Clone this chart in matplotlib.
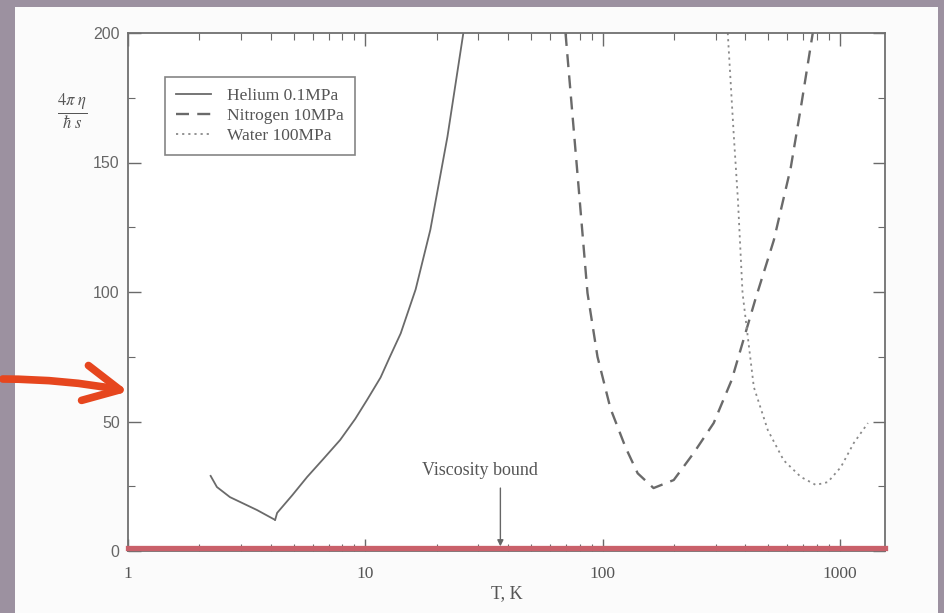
import matplotlib
matplotlib.use("Agg")
import matplotlib.pyplot as plt
from matplotlib.patches import Rectangle, FancyArrowPatch
from matplotlib.ticker import LogLocator, NullFormatter, MultipleLocator, FixedLocator, FixedFormatter

plt.rcParams["mathtext.fontset"] = "stix"

# ---- data ----
helium_liq_T = [2.22, 2.37, 2.69, 3.5, 4.17]
helium_liq_v = [29.3, 24.7, 20.8, 15.8, 12.0]
helium_gas_T = [4.17, 4.25, 4.92, 5.69, 6.65, 7.84, 9.07, 10.2, 11.6, 12.7, 14.1, 16.3, 18.8, 22.2, 25.9]
helium_gas_v = [12.0, 14.7, 21.5, 28.6, 35.5, 42.9, 51.0, 58.5, 67.0, 75.0, 84.0, 101.0, 124.0, 160.0, 200.0]

nitrogen_T = [69.8, 78.0, 86.4, 95.2, 108, 125, 140.6, 164, 199.5, 242, 294, 350, 440, 527, 621, 690, 769]
nitrogen_v = [200.0, 148.0, 99.6, 75.0, 55.0, 40.0, 30.0, 24.3, 27.4, 37.8, 49.4, 66.0, 97.0, 120.0, 148.0, 173.0, 200.0]

water_T = [337, 357, 372, 389, 434, 497, 580, 685, 792, 890, 1010, 1145, 1313]
water_v = [200.0, 161.0, 135.5, 99.6, 63.3, 46.7, 35.0, 28.6, 25.5, 26.6, 32.4, 41.7, 49.4]

series_labels = ["Helium 0.1MPa", "Nitrogen 10MPa", "Water 100MPa"]
bound_value = 1.0
bound_label = "Viscosity bound"
bound_arrow_T = 37.1
bound_text_T = 30.5
bound_text_v = 31.0
y_ticks = [0, 50, 100, 150, 200]
x_ticks = [1, 10, 100, 1000]
x_ticklabels = ["1", "10", "100", "1000"]

W, H = 944, 613
fig = plt.figure(figsize=(W / 100, H / 100), dpi=100, facecolor="#9c91a0")

# white slide panel
fig.patches.append(Rectangle((15 / W, 0), (938 - 15) / W, (H - 7) / H,
                             transform=fig.transFigure, facecolor="#fbfbfb",
                             edgecolor="none", zorder=-5))

ax = fig.add_axes([128 / W, (H - 551) / H, (885 - 128) / W, (551 - 33) / H], zorder=2)
ax.set_facecolor("white")

gray = "#6a6a6a"
serif = ["Liberation Serif", "DejaVu Serif"]

ax.plot(helium_liq_T, helium_liq_v, color=gray, lw=1.3, solid_capstyle="butt")
l1, = ax.plot(helium_gas_T, helium_gas_v, color=gray, lw=1.3)
l2, = ax.plot(nitrogen_T, nitrogen_v, color=gray, lw=1.7, ls=(0, (5.5, 3.5)))
l3, = ax.plot(water_T, water_v, color="#8a8a8a", lw=1.3, ls=(0, (1.2, 2.2)))

ax.axhline(bound_value, color="#c9606a", lw=3.8, zorder=5, clip_on=False)

ax.set_xscale("log")
ax.set_xlim(1, 1550)
ax.set_ylim(0, 200)

ax.xaxis.set_major_locator(FixedLocator(x_ticks))
ax.xaxis.set_major_formatter(FixedFormatter(x_ticklabels))
ax.xaxis.set_minor_locator(LogLocator(base=10, subs=range(2, 10)))
ax.xaxis.set_minor_formatter(NullFormatter())
ax.yaxis.set_major_locator(FixedLocator(y_ticks))
ax.yaxis.set_minor_locator(MultipleLocator(25))

ax.tick_params(which="both", direction="in", top=True, right=True, colors=gray)
ax.tick_params(which="major", length=9, width=1)
ax.tick_params(which="minor", length=5, width=0.8)
ax.tick_params(axis="x", which="major", pad=11)
ax.tick_params(axis="y", which="major", pad=6)
for lab in ax.get_xticklabels():
    lab.set_fontfamily(serif)
    lab.set_fontsize(12.5)
    lab.set_color("#555555")
for lab in ax.get_yticklabels():
    lab.set_fontfamily(["Liberation Sans", "DejaVu Sans"])
    lab.set_fontsize(11.5)
    lab.set_color("#666666")
for s in ax.spines.values():
    s.set_color("#707070")
    s.set_linewidth(1.3)

ax.set_xlabel("T, K", fontfamily=serif, fontsize=13, color="#555555", labelpad=2)

leg = ax.legend([l1, l2, l3], series_labels, loc="upper left",
                bbox_to_anchor=((165 - 128) / (885 - 128), (551 - 77) / (551 - 33)),
                frameon=True, fancybox=False, edgecolor="#666666",
                prop={"family": serif, "size": 12.5}, handlelength=2.0,
                handletextpad=0.9, labelspacing=0.2, borderpad=0.65,
                borderaxespad=0)
leg.get_frame().set_linewidth(1.2)
for t in leg.get_texts():
    t.set_color("#555555")

# viscosity bound annotation
ax.text(bound_text_T, bound_text_v, bound_label, ha="center", va="center",
        fontfamily=serif, fontsize=13, color="#555555")
ax.annotate("", xy=(bound_arrow_T, bound_value + 0.8), xytext=(bound_arrow_T, 24.3),
            arrowprops=dict(arrowstyle="-|>", color="#666666", lw=1.0,
                            shrinkA=0, shrinkB=0, mutation_scale=9))

# y label as fraction
fig.text(72 / W, 1 - 112 / H, r"$\frac{4\pi\ \eta}{\hbar\ s}$", ha="center",
         va="center", fontsize=17, color="#555555")

# red hand-drawn arrow on the left
arr = FancyArrowPatch((0 / W, 1 - 379 / H), (131 / W, 1 - 392 / H),
                      transform=fig.transFigure, arrowstyle="->,head_length=1.6,head_width=0.8",
                      connectionstyle="arc3,rad=-0.05", color="#e6461e",
                      lw=5.5, mutation_scale=16, zorder=10)
fig.patches.append(arr)

fig.savefig("out.png", dpi=100, facecolor=fig.get_facecolor())
